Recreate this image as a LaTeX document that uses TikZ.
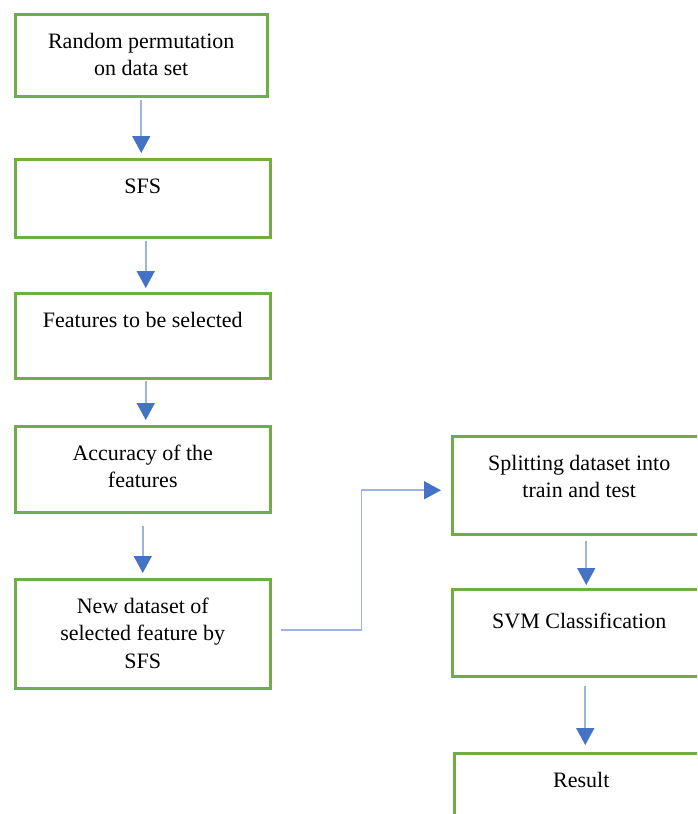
\documentclass[tikz,border=0pt]{standalone}
\usepackage{fontspec}
\setmainfont{Liberation Serif}
\usetikzlibrary{arrows.meta,calc}
\definecolor{boxgreen}{HTML}{70AD47}
\definecolor{tipblue}{HTML}{4472C4}
\definecolor{shaftblue}{HTML}{9BB5E0}
\newcommand{\bxtext}[4][34pt]{\parbox[c][#3][t]{#2}{\centering\fontsize{22pt}{27.5pt}\selectfont\rule{0pt}{#1}#4}}
\begin{document}
\begin{tikzpicture}[x=1pt,y=-1pt,
  flowbox/.style={draw=boxgreen, line width=2.5pt, inner sep=0pt, anchor=north west},
  arr/.style={draw=shaftblue, line width=1.6pt, -{Triangle[width=18pt,length=17pt,color=tipblue]}}]
\useasboundingbox (0,0) rectangle (697,814);
\clip (0,0) rectangle (697,814);
\fill[white] (0,0) rectangle (697,814);
\node[flowbox] (b1) at (14,13) {\bxtext{252pt}{82pt}{Random permutation\\ on data set}};
\node[flowbox] (b2) at (14,158) {\bxtext{255pt}{78pt}{SFS}};
\node[flowbox] (b3) at (14,292) {\bxtext{255pt}{85pt}{Features to be selected}};
\node[flowbox] (b4) at (14,425) {\bxtext{255pt}{86pt}{Accuracy of the\\ features}};
\node[flowbox] (b5) at (14,578) {\bxtext{255pt}{109pt}{New dataset of\\ selected feature by\\ SFS}};
\node[flowbox] (b6) at (451,435) {\bxtext{254pt}{98pt}{Splitting dataset into\\ train and test}};
\node[flowbox] (b7) at (451,588) {\bxtext[39pt]{254pt}{87pt}{SVM Classification}};
\node[flowbox] (b8) at (453,752) {\bxtext{254pt}{100pt}{Result}};
\draw[arr] ($(b1.south)+(0,2)$) -- ($(b1.south |- b2.north)+(0,-5)$);
\draw[arr] ($(b2.south)+(3,2)$) -- ($(b3.north)+(3,-4)$);
\draw[arr] ($(b3.south)+(3,1)$) -- ($(b4.north)+(3,-5)$);
\draw[arr] ($(b4.south)+(0,12)$) -- ($(b5.north)+(0,-5)$);
\draw[arr] ($(b5.east)+(9,-4)$) -- ++(81,0) |- ($(b6.west)+(-10,5)$);
\draw[arr] ($(b6.south)+(7,5)$) -- ($(b7.north)+(7,-3)$);
\draw[arr] ($(b7.south)+(6,8)$) -- ($(b8.north)+(4,-7)$);
\end{tikzpicture}
\end{document}
